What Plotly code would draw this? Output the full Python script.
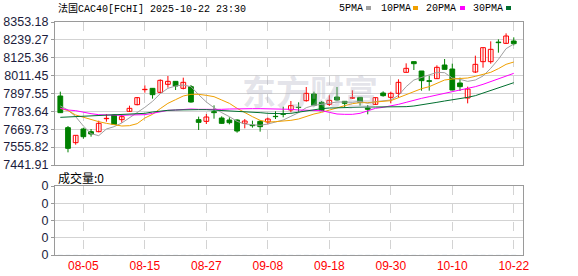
import plotly.graph_objects as go

# ---------------- data ----------------
dates = ["07-31", "08-01", "08-04", "08-05", "08-06", "08-07", "08-08", "08-11", "08-12", "08-13",
         "08-14", "08-15", "08-18", "08-19", "08-20", "08-21", "08-22", "08-25", "08-26", "08-27",
         "08-28", "08-29", "09-01", "09-02", "09-03", "09-04", "09-05", "09-08", "09-09", "09-10",
         "09-11", "09-12", "09-15", "09-16", "09-17", "09-18", "09-19", "09-22", "09-23", "09-24",
         "09-25", "09-26", "09-29", "09-30", "10-01", "10-02", "10-03", "10-06", "10-07", "10-08",
         "10-09", "10-10", "10-13", "10-14", "10-15", "10-16", "10-17", "10-20", "10-21", "10-22"]

opens = [7881.6, 7679.8, 7584.2, 7671.3, 7654.3, 7654.3, 7737.1, 7760.5, 7730.8, 7784.0,
         7826.4, 7922.0, 7930.4, 7904.9, 7955.9, 7975.0, 7930.4, 7941.1, 7730.8, 7720.1,
         7781.7, 7741.4, 7728.6, 7728.6, 7707.4, 7696.8, 7720.1, 7716.0, 7752.0, 7767.0,
         7792.4, 7810.0, 7851.8, 7894.3, 7841.2, 7828.5, 7875.2, 7847.6, 7868.0, 7873.1,
         7805.1, 7828.5, 7900.7, 7873.1, 7898.6, 8032.4, 8100.4, 8040.9, 7979.0, 7992.0,
         8079.1, 8053.6, 7964.4, 7868.8, 8034.5, 8100.4, 8100.4, 8225.0, 8217.2, 8232.1]
highs = [7909.2, 7690.4, 7630.9, 7679.8, 7671.3, 7724.4, 7766.9, 7764.8, 7760.5, 7820.0,
         7875.2, 7949.6, 7930.4, 7987.8, 8009.0, 7975.0, 7998.4, 7951.7, 7749.9, 7766.9,
         7822.1, 7752.0, 7745.6, 7732.9, 7735.0, 7724.4, 7728.6, 7743.5, 7783.9, 7813.6,
         7849.7, 7841.2, 7938.9, 7909.2, 7849.7, 7886.0, 7938.9, 7847.6, 7917.7, 7873.1,
         7824.2, 7871.0, 7911.3, 7909.2, 7987.8, 8089.8, 8100.4, 8040.9, 8011.2, 8077.0,
         8117.4, 8087.6, 7998.4, 7941.1, 8138.6, 8189.6, 8230.0, 8242.7, 8280.9, 8255.4]
lows = [7773.2, 7522.6, 7571.4, 7609.7, 7622.4, 7650.0, 7718.0, 7696.8, 7711.6, 7779.6,
        7822.1, 7902.8, 7864.6, 7898.6, 7934.7, 7919.8, 7924.1, 7839.1, 7664.9, 7703.1,
        7737.1, 7705.3, 7701.0, 7647.9, 7675.5, 7679.8, 7654.3, 7701.0, 7735.0, 7745.6,
        7777.5, 7781.7, 7845.5, 7815.7, 7786.0, 7817.9, 7851.8, 7809.4, 7864.6, 7820.0,
        7764.8, 7824.2, 7877.3, 7834.8, 7871.0, 8032.4, 8047.3, 7915.6, 7915.6, 7989.9,
        8051.5, 7917.7, 7913.4, 7834.8, 8028.2, 8062.1, 8087.6, 8157.7, 8213.0, 8204.5]
closes = [7775.4, 7548.1, 7630.9, 7622.4, 7639.4, 7707.4, 7739.3, 7701.0, 7749.9, 7803.0,
          7871.0, 7924.1, 7890.1, 7981.4, 7975.0, 7945.3, 7968.7, 7843.3, 7713.8, 7747.8,
          7775.4, 7707.4, 7711.6, 7658.5, 7722.3, 7692.5, 7686.2, 7735.0, 7750.0, 7765.0,
          7820.0, 7808.0, 7898.6, 7822.1, 7788.1, 7854.0, 7856.1, 7835.0, 7871.0, 7841.2,
          7796.6, 7871.0, 7883.7, 7898.6, 7968.7, 8057.9, 8087.6, 7979.3, 7975.0, 8064.3,
          8051.5, 7919.8, 7941.1, 7926.2, 8083.4, 8189.6, 8179.0, 8221.5, 8263.9, 8215.1]

ma5 = [7817.9, 7792.4, 7749.9, 7690.4, 7641.5, 7628.8, 7671.3, 7686.2, 7709.5, 7743.5,
       7773.2, 7809.4, 7847.6, 7896.4, 7930.4, 7945.3, 7951.7, 7941.1, 7890.1, 7843.3,
       7807.2, 7775.4, 7749.9, 7720.1, 7703.1, 7696.8, 7694.7, 7703.1, 7718.0, 7728.6,
       7752.0, 7775.4, 7807.2, 7822.1, 7828.5, 7834.8, 7843.3, 7843.3, 7841.2, 7847.6,
       7834.8, 7845.5, 7849.7, 7856.1, 7885.8, 7941.1, 7983.5, 8000.5, 8015.4, 8032.4,
       8030.3, 7996.3, 7987.8, 7975.0, 7983.5, 8009.0, 8057.9, 8115.2, 8183.2, 8213.0]
ma10 = [7803.0, 7788.1, 7760.5, 7745.6, 7732.9, 7718.0, 7707.4, 7696.8, 7690.4, 7692.5,
        7705.3, 7741.4, 7764.8, 7800.9, 7834.8, 7858.2, 7881.6, 7892.2, 7892.2, 7885.8,
        7877.3, 7856.1, 7834.8, 7803.0, 7775.4, 7749.9, 7726.5, 7715.9, 7718.0, 7720.1,
        7726.5, 7735.0, 7752.0, 7766.9, 7777.5, 7792.4, 7809.4, 7820.0, 7832.7, 7839.1,
        7839.1, 7843.3, 7845.5, 7851.8, 7871.0, 7890.1, 7913.4, 7928.3, 7941.1, 7960.2,
        7983.5, 7989.9, 7994.2, 7996.3, 8006.9, 8019.7, 8032.4, 8055.8, 8083.4, 8098.3]
ma20 = [7803.0, 7792.4, 7788.1, 7777.5, 7769.0, 7762.6, 7760.5, 7758.4, 7758.4, 7760.5,
        7760.5, 7762.6, 7771.1, 7781.7, 7790.2, 7792.4, 7796.6, 7798.7, 7796.6, 7796.6,
        7792.4, 7796.6, 7798.7, 7800.9, 7800.9, 7800.9, 7800.9, 7800.9, 7800.9, 7800.9,
        7796.6, 7792.4, 7792.4, 7792.4, 7788.1, 7777.5, 7766.9, 7764.8, 7764.8, 7771.1,
        7786.0, 7803.0, 7809.4, 7817.9, 7828.5, 7841.2, 7856.1, 7866.7, 7877.3, 7888.0,
        7898.6, 7909.2, 7915.6, 7926.2, 7941.1, 7955.9, 7972.9, 7989.9, 8009.0, 8026.0]
ma30 = [7745.6, 7747.8, 7749.9, 7754.1, 7756.3, 7758.4, 7760.5, 7762.6, 7762.6, 7764.8,
        7769.0, 7771.1, 7779.6, 7786.0, 7790.2, 7792.4, 7794.5, 7794.5, 7794.5, 7794.5,
        7792.4, 7788.1, 7786.0, 7783.9, 7781.7, 7777.5, 7775.4, 7771.1, 7769.0, 7769.0,
        7771.1, 7779.6, 7788.1, 7794.5, 7800.9, 7805.1, 7807.2, 7809.4, 7811.5, 7813.6,
        7811.5, 7811.5, 7811.5, 7809.4, 7809.4, 7813.6, 7817.9, 7824.2, 7832.7, 7841.2,
        7849.7, 7856.1, 7862.5, 7873.1, 7883.7, 7900.7, 7917.7, 7932.6, 7949.6, 7966.5]
volumes = [0] * len(dates)

ytick_labels = ["7441.91", "7555.82", "7669.73", "7783.64", "7897.55",
                "8011.45", "8125.36", "8239.27", "8353.18"]
xtick_labels = ["08-05", "08-15", "08-27", "09-08", "09-18", "09-30", "10-10", "10-22"]
title_text = "法国CAC40[FCHI] 2025-10-22 23:30"
ma_names = ["5PMA", "10PMA", "20PMA", "30PMA"]
volume_label = "成交量:0"

# ---------------- styles ----------------
RED = "#ff0000"
GREEN = "#008000"
MA_COLORS = ["#a0a0a0", "#f0a000", "#ff00ff", "#006f2f"]
GRID = "#d3d3d3"
FRAME = "#9a9a9a"
AXFONT = dict(family="Liberation Sans, Arial, sans-serif", size=12.5, color="#1c1c3c")
MONO = "Liberation Mono, Noto Sans CJK SC, monospace"

W, H = 578, 276
ML, MR, MT, MB = 55, 55, 22, 21
PW, PH = W - ML - MR, H - MT - MB


def px(x):
    return (x - ML) / PW


def py(y):
    return (H - MB - y) / PH


n = len(dates)
xs = list(range(n))

fig = go.Figure()

# wicks
for col, is_up in ((RED, True), (GREEN, False)):
    wx, wy = [], []
    for i in xs:
        up = closes[i] >= opens[i]
        if up == is_up:
            wx += [i, i, None]
            wy += [lows[i], highs[i], None]
    fig.add_trace(go.Scatter(x=wx, y=wy, mode="lines", line=dict(color=col, width=1),
                             hoverinfo="skip", showlegend=False))

# bodies
up_idx = [i for i in xs if closes[i] >= opens[i]]
dn_idx = [i for i in xs if closes[i] < opens[i]]
fig.add_trace(go.Bar(x=up_idx, y=[closes[i] - opens[i] for i in up_idx],
                     base=[opens[i] for i in up_idx], width=0.62,
                     marker=dict(color="white", line=dict(color=RED, width=1)),
                     showlegend=False))
fig.add_trace(go.Bar(x=dn_idx, y=[opens[i] - closes[i] for i in dn_idx],
                     base=[closes[i] for i in dn_idx], width=0.62,
                     marker=dict(color=GREEN, line=dict(color=GREEN, width=1)),
                     showlegend=False))

# moving averages
for name, vals, col in zip(ma_names, [ma5, ma10, ma20, ma30], MA_COLORS):
    fig.add_trace(go.Scatter(x=xs, y=vals, mode="lines", name=name,
                             line=dict(color=col, width=1), showlegend=False))

# volume (all zero)
fig.add_trace(go.Bar(x=xs, y=volumes, xaxis="x2", yaxis="y2", width=0.62,
                     marker=dict(color=GREEN), showlegend=False))

tick_pos = [dates.index(d) for d in xtick_labels]
xr = [-0.69, n + 0.2]

common_x = dict(range=xr, tickvals=tick_pos, showgrid=True, gridcolor=GRID, griddash="dash",
                gridwidth=1, zeroline=False, showline=True, mirror=True, linecolor=FRAME,
                linewidth=1, ticks="", fixedrange=True, automargin=False)

fig.update_layout(
    width=W, height=H,
    margin=dict(l=ML, r=MR, t=MT, b=MB, pad=0, autoexpand=False),
    paper_bgcolor="white", plot_bgcolor="white",
    barmode="overlay",
    showlegend=False,
    xaxis=dict(common_x, anchor="y", showticklabels=False),
    xaxis2=dict(common_x, anchor="y2", matches="x", showticklabels=True,
                ticktext=xtick_labels,
                tickfont=dict(family="Liberation Sans, Arial, sans-serif", size=12, color=RED)),
    yaxis=dict(domain=[py(165), 1], range=[float(ytick_labels[0]), float(ytick_labels[-1])],
               tickvals=[float(t) for t in ytick_labels], ticktext=ytick_labels,
               showgrid=True, gridcolor=GRID, gridwidth=1, zeroline=False,
               showline=True, mirror=True, linecolor=FRAME, linewidth=1, automargin=False,
               ticks="outside", ticklen=3, tickcolor=FRAME, tickfont=AXFONT),
    yaxis2=dict(domain=[0, py(186)], range=[0, 4], tickvals=[0, 1, 2, 3, 4],
                ticktext=["0"] * 5, showgrid=True, gridcolor=GRID, gridwidth=1,
                zeroline=False, showline=True, mirror=True, linecolor=FRAME, linewidth=1,
                automargin=False,
                ticks="outside", ticklen=3, tickcolor=FRAME, tickfont=AXFONT),
)

ann = []
ann.append(dict(text=title_text, x=px(56), y=py(9), xref="paper", yref="paper",
                xanchor="left", yanchor="middle", showarrow=False,
                font=dict(family=MONO, size=10, color="#000000")))
leg_x = [337, 379, 424, 471]
sq_x = [366, 413, 460, 506]
for name, col, lx, sx in zip(ma_names, MA_COLORS, leg_x, sq_x):
    ann.append(dict(text=name, x=px(lx), y=py(8.5), xref="paper", yref="paper",
                    xanchor="left", yanchor="middle", showarrow=False,
                    font=dict(family=MONO, size=10, color="#000000")))
    fig.add_shape(type="rect", xref="paper", yref="paper",
                  x0=px(sx), x1=px(sx + 5), y0=py(10), y1=py(6),
                  fillcolor=col, line=dict(width=0))
ann.append(dict(text=volume_label, x=px(56), y=py(177), xref="paper", yref="paper",
                xanchor="left", yanchor="middle", showarrow=False,
                font=dict(family="Noto Sans CJK SC, sans-serif", size=12, color="#000000")))
ann.append(dict(text="<b>东方财富</b>", x=px(310), y=py(90), xref="paper", yref="paper",
                xanchor="center", yanchor="middle", showarrow=False,
                font=dict(family="Noto Sans CJK SC, sans-serif", size=34,
                          color="rgba(170,170,190,0.32)")))
fig.update_layout(annotations=ann)

fig.write_html("out.html")
